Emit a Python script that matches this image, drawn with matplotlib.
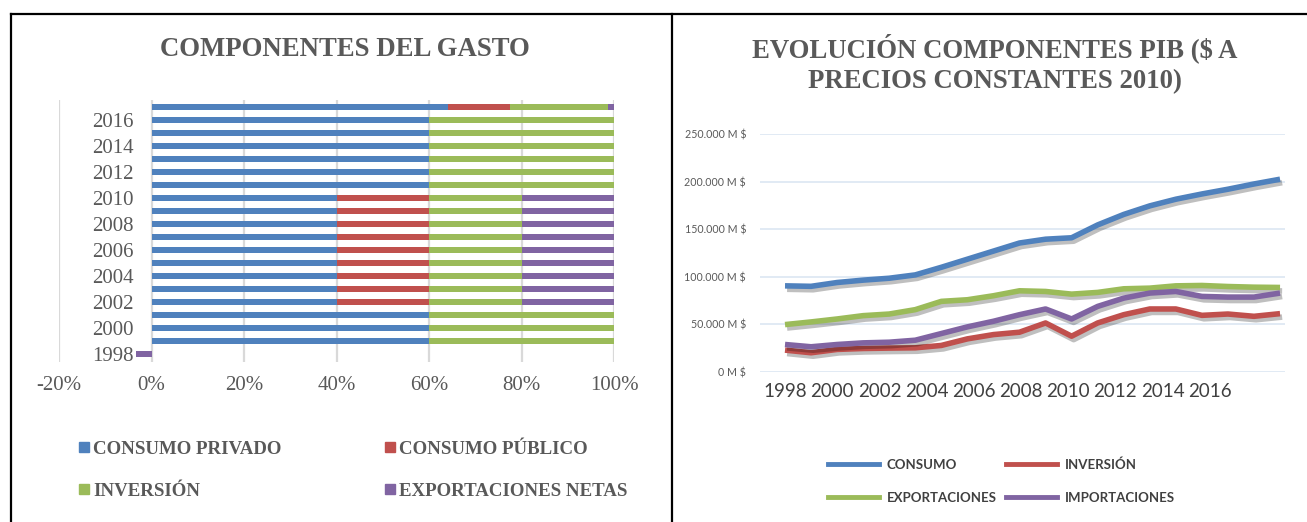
import matplotlib
matplotlib.use("Agg")
import matplotlib.pyplot as plt
import matplotlib.patheffects as pe
from matplotlib.lines import Line2D
import numpy as np

# datos del grafico de barras (proporciones del gasto)
years = list(range(1998, 2018))
privado = [0, 0.6, 0.6, 0.6, 0.4, 0.4, 0.4, 0.4, 0.4, 0.4, 0.4, 0.4, 0.4,
           0.6, 0.6, 0.6, 0.6, 0.6, 0.6, 0.642]
publico = [0, 0, 0, 0, 0.2, 0.2, 0.2, 0.2, 0.2, 0.2, 0.2, 0.2, 0.2,
           0, 0, 0, 0, 0, 0, 0.134]
inversion = [0, 0.4, 0.4, 0.4, 0.2, 0.2, 0.2, 0.2, 0.2, 0.2, 0.2, 0.2, 0.2,
             0.4, 0.4, 0.4, 0.4, 0.4, 0.4, 0.211]
netas = [-0.034, 0, 0, 0, 0.2, 0.2, 0.2, 0.2, 0.2, 0.2, 0.2, 0.2, 0.2,
         0, 0, 0, 0, 0, 0, 0.013]
bar_names = ["CONSUMO PRIVADO", "CONSUMO PÚBLICO", "INVERSIÓN", "EXPORTACIONES NETAS"]
ytick_years = list(range(1998, 2017, 2))

# datos del grafico de lineas (M $ a precios constantes 2010)
consumo = [90500, 90000, 94000, 96500, 98500, 102000, 110000, 118500, 127000, 135500,
           139500, 141000, 154500, 165500, 174500, 181500, 187000, 192000, 197500, 202500]
inversion_pib = [23000, 20200, 23700, 24700, 25100, 25400, 27900, 34800, 39300, 41800,
                 51500, 37600, 51500, 60200, 66200, 66200, 59500, 60900, 58500, 61300]
exportaciones = [49800, 52600, 55700, 59200, 60900, 65500, 74200, 75900, 80100, 85300,
                 84600, 81800, 83600, 87400, 88100, 90500, 90900, 89800, 89100, 88800]
importaciones = [28900, 26500, 28900, 30600, 31300, 33400, 40400, 47400, 53300, 60200,
                 66200, 55700, 68900, 77600, 82900, 84600, 79400, 78700, 78700, 82900]
line_names = ["CONSUMO", "INVERSIÓN", "EXPORTACIONES", "IMPORTACIONES"]
xtick_labels = [str(y) for y in range(1998, 2017, 2)]

colors = ["#4F81BD", "#C0504D", "#9BBB59", "#8064A2"]
gray = "#595959"
W, H = 1307, 522

fig = plt.figure(figsize=(W / 100, H / 100), dpi=100)

# marco tipo tabla
fig.add_artist(Line2D([11 / W, 1], [1 - 14 / H, 1 - 14 / H], color="black", lw=1.6))
fig.add_artist(Line2D([11 / W, 11 / W], [0, 1 - 14 / H], color="black", lw=1.6))
fig.add_artist(Line2D([672 / W, 672 / W], [0, 1 - 14 / H], color="black", lw=1.6))

# ---------- barras ----------
ax1 = fig.add_axes([59 / W, 1 - 362 / H, 555 / W, 262 / H])
left = np.zeros(len(years))
for vals, c in zip([privado, publico, inversion, netas], colors):
    ax1.barh(years, vals, left=left, height=0.46, color=c, zorder=3)
    left = left + np.array(vals)
ax1.set_xlim(-0.2, 1.0)
ax1.set_ylim(1997.4, 2017.55)
ax1.set_xticks(np.arange(-0.2, 1.01, 0.2))
ax1.set_xticklabels(["-20%", "0%", "20%", "40%", "60%", "80%", "100%"])
ax1.set_yticks(ytick_years)
ax1.set_yticklabels([str(y) for y in ytick_years])
for s in ax1.spines.values():
    s.set_visible(False)
ax1.spines["left"].set_position(("data", 0))
ax1.tick_params(axis="both", length=0, labelsize=15, labelcolor=gray)
ax1.tick_params(axis="y", pad=13)
ax1.tick_params(axis="x", pad=10)
for lab in ax1.get_xticklabels() + ax1.get_yticklabels():
    lab.set_fontfamily("Liberation Serif")
ax1.grid(axis="x", color="#D9D9D9", lw=1.6, zorder=0)

fig.text(345 / W, 1 - 49 / H, "COMPONENTES DEL GASTO", ha="center", va="center",
         fontsize=19.3, fontweight="bold", family="Liberation Serif", color=gray)

h1 = [Line2D([], [], marker="s", ls="none", markersize=7, color=c) for c in colors]
order = [0, 2, 1, 3]
fig.legend([h1[i] for i in order], [bar_names[i] for i in order],
           loc="center left", bbox_to_anchor=(62 / W, 1 - 470 / H), ncol=2,
           frameon=False, handlelength=0.55, handletextpad=0.2, columnspacing=5.45,
           labelspacing=1.3, prop={"family": "Liberation Serif", "weight": "bold", "size": 13.6},
           labelcolor=gray)

# ---------- lineas ----------
ax2 = fig.add_axes([760 / W, 1 - 372 / H, 525 / W, 238 / H])
shadow = [pe.SimpleLineShadow(offset=(1.5, -2.5), alpha=0.25, shadow_color="black"), pe.Normal()]
for vals, c in zip([consumo, inversion_pib, exportaciones, importaciones], colors):
    ax2.plot(years, vals, color=c, lw=4.0, solid_capstyle="butt", zorder=3, path_effects=shadow)
ax2.set_ylim(0, 250000)
ax2.set_xlim(1997.04, 2017.19)
ax2.set_yticks(np.arange(0, 250001, 50000))
ax2.set_yticklabels([f"{v:,.0f} M $".replace(",", ".") for v in np.arange(0, 250001, 50000)])
tick_pos = np.linspace(years[0], 2014.3, len(xtick_labels))
ax2.set_xticks(tick_pos)
ax2.set_xticklabels(xtick_labels)
for s in ax2.spines.values():
    s.set_visible(False)
ax2.tick_params(axis="y", length=0, labelsize=7.7, labelcolor=gray, pad=10)
ax2.tick_params(axis="x", length=0, labelsize=13.5, labelcolor="#404040", pad=8)
for lab in ax2.get_xticklabels() + ax2.get_yticklabels():
    lab.set_fontfamily("Lato")
ax2.grid(axis="y", color="#DCE6F2", lw=1.2, zorder=0)

fig.text(995 / W, 1 - 64 / H, "EVOLUCIÓN COMPONENTES PIB ($ A\nPRECIOS CONSTANTES 2010)",
         ha="center", va="center", fontsize=19.3, fontweight="bold", family="Liberation Serif",
         color=gray, linespacing=1.33)

h2 = [Line2D([], [], color=c, lw=3.5) for c in colors]
fig.legend([h2[i] for i in order], [line_names[i] for i in order],
           loc="center left", bbox_to_anchor=(816 / W, 1 - 481 / H), ncol=2,
           frameon=False, handlelength=3.9, handletextpad=0.55, columnspacing=0.7,
           labelspacing=1.6, prop={"family": "Lato", "weight": "bold", "size": 9.5},
           labelcolor="#404040")

fig.savefig("out.png", dpi=100)
